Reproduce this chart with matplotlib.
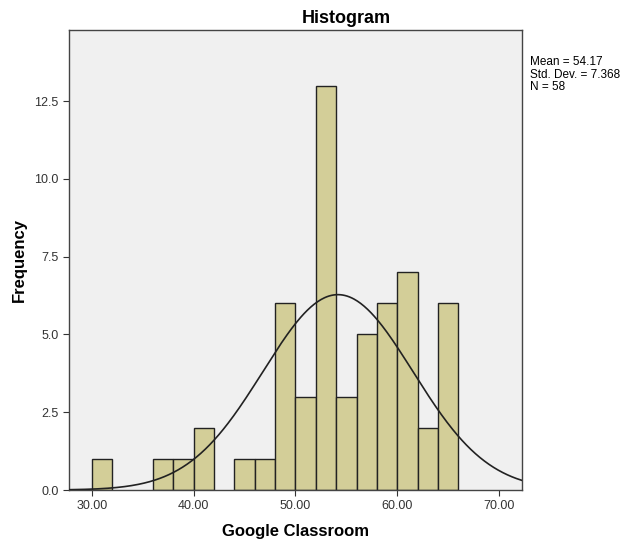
import numpy as np
import matplotlib
matplotlib.use("Agg")
import matplotlib.pyplot as plt

plt.rcParams['font.family'] = ['Liberation Sans', 'DejaVu Sans']

# bin edges (width 2) and counts
bin_starts = [30, 32, 34, 36, 38, 40, 42, 44, 46, 48, 50, 52, 54, 56, 58, 60, 62, 64]
counts     = [1, 0, 0, 1, 1, 2, 0, 1, 1, 6, 3, 13, 3, 5, 6, 7, 2, 6]
bin_width = 2
mean = 54.17
std = 7.368
n = 58

x_ticks = [30, 40, 50, 60, 70]
y_ticks = [0, 2.5, 5, 7.5, 10, 12.5]

fig = plt.figure(figsize=(6.25, 5.43), dpi=100)
ax = fig.add_axes([0.1104, 0.0976, 0.7248, 0.8472])
ax.set_facecolor("#f0f0f0")

for start, c in zip(bin_starts, counts):
    if c > 0:
        ax.bar(start, c, width=bin_width, align="edge", color="#d3ce98",
               edgecolor="#222222", linewidth=1.0, zorder=2)

# normal curve scaled to counts
xs = np.linspace(27.74, 72.26, 400)
ys = n * bin_width / (std * np.sqrt(2 * np.pi)) * np.exp(-0.5 * ((xs - mean) / std) ** 2)
ax.plot(xs, ys, color="#222222", linewidth=1.2, zorder=3)

ax.set_xlim(27.74, 72.26)
ax.set_ylim(0, 14.79)
ax.set_xticks(x_ticks)
ax.set_xticklabels([f"{t:.2f}" for t in x_ticks], fontsize=9, color="#333333")
ax.set_yticks(y_ticks)
ax.set_yticklabels([f"{t:.1f}" for t in y_ticks], fontsize=9, color="#333333")
ax.tick_params(direction="out", length=4, width=0.8, color="#333333")

for s in ax.spines.values():
    s.set_color("#444444")
    s.set_linewidth(1.0)

ax.set_xlabel("Google Classroom", fontsize=12, fontweight="bold", labelpad=8)
ax.set_ylabel("Frequency", fontsize=12, fontweight="bold", labelpad=5)

# SPSS centres the title over the chart plus the legend area
fig.text(0.554, 0.966, "Histogram", fontsize=13, fontweight="bold",
         ha="center", va="center")

fig.text(0.848, 0.896, "Mean = 54.17\nStd. Dev. = 7.368\nN = 58",
         fontsize=8.5, va="top", ha="left", linespacing=1.05)

fig.savefig("out.png", dpi=100)
